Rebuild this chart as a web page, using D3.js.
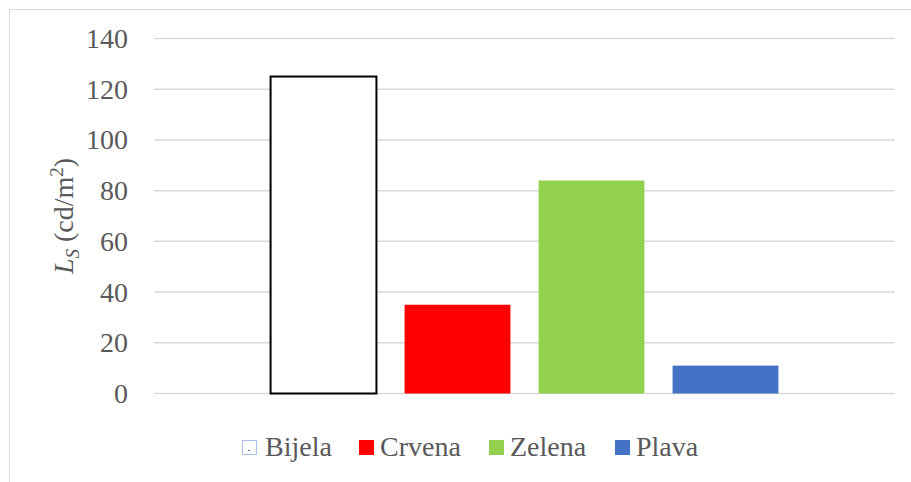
<!DOCTYPE html>
<html>
<head>
<meta charset="utf-8">
<script src="https://cdn.jsdelivr.net/npm/d3@7"></script>
</head>
<body style="margin:0">
<script>
  // data
  var series = ["Bijela", "Crvena", "Zelena", "Plava"];
  var values = [125, 35, 84, 11];
  var colors = ["#ffffff", "#ff0000", "#92d050", "#4472c4"];
  var yTicks = [0, 20, 40, 60, 80, 100, 120, 140];

  var width = 911, height = 482;
  var plotLeft = 154, plotRight = 895, plotTop = 38.5, plotBottom = 393.5;

  var svg = d3.select("body").append("svg")
    .attr("width", width).attr("height", height);

  // chart frame
  svg.append("rect")
    .attr("x", 9.5).attr("y", 9.5)
    .attr("width", width + 20).attr("height", height + 20)
    .attr("fill", "none").attr("stroke", "#d9d9d9").attr("stroke-width", 1);

  var y = d3.scaleLinear().domain([0, 140]).range([plotBottom, plotTop]);
  var x = d3.scaleBand().domain(series).range([plotLeft, plotRight])
    .paddingInner(0.21).paddingOuter(0.87);

  // gridlines
  svg.append("g")
    .selectAll("line")
    .data(yTicks)
    .join("line")
      .attr("x1", plotLeft).attr("x2", plotRight)
      .attr("y1", d => y(d)).attr("y2", d => y(d))
      .attr("stroke", "#d9d9d9").attr("stroke-width", 1.5);

  // y axis labels, drawn as plain texts at the scale's positions
  svg.append("g")
    .selectAll("text")
    .data(yTicks)
    .join("text")
      .attr("x", 128)
      .attr("y", d => y(d))
      .attr("dy", "0.34em")
      .attr("text-anchor", "end")
      .attr("font-size", 28)
      .attr("fill", "#595959")
      .style("font-family", "'Liberation Serif'")
      .text(d => d);

  // bars
  svg.append("g")
    .selectAll("rect")
    .data(series)
    .join("rect")
      .attr("x", d => x(d))
      .attr("width", x.bandwidth())
      .attr("y", (d, i) => y(values[i]))
      .attr("height", (d, i) => y(0) - y(values[i]))
      .attr("fill", (d, i) => colors[i])
      .attr("stroke", (d, i) => i == 0 ? "#000" : "none")
      .attr("stroke-width", 2);

  // y axis title
  var title = svg.append("text")
    .attr("transform", "translate(73,216) rotate(-90)")
    .attr("text-anchor", "middle")
    .attr("font-size", 28)
    .attr("fill", "#595959")
    .style("font-family", "'Liberation Serif'");
  title.append("tspan").attr("font-style", "italic").text("L");
  title.append("tspan").attr("font-style", "italic").attr("font-size", 19).attr("dy", 6).text("S");
  title.append("tspan").attr("dy", -6).text(" (cd/m");
  title.append("tspan").attr("font-size", 19).attr("dy", -10).text("2");
  title.append("tspan").attr("dy", 10).text(")");

  // legend
  var legendX = [242, 359, 489, 615];
  var lg = svg.append("g")
    .selectAll("g")
    .data(series)
    .join("g")
      .attr("transform", (d, i) => "translate(" + legendX[i] + ",440)");
  lg.append("rect")
    .attr("x", (d, i) => i == 0 ? 0.5 : 0)
    .attr("y", (d, i) => i == 0 ? 0.5 : 0)
    .attr("width", (d, i) => i == 0 ? 14 : 15)
    .attr("height", (d, i) => i == 0 ? 14 : 15)
    .attr("fill", (d, i) => colors[i])
    .attr("stroke", (d, i) => i == 0 ? "#aac0e8" : "none");
  lg.filter((d, i) => i == 0).append("line")
    .attr("x1", 6).attr("x2", 8).attr("y1", 10.5).attr("y2", 10.5)
    .attr("stroke", "#4472c4");
  lg.append("text")
    .attr("x", (d, i) => i == 0 ? 23 : 21)
    .attr("y", 16)
    .attr("font-size", 28)
    .attr("fill", "#595959")
    .style("font-family", "'Liberation Serif'")
    .text(d => d);
</script>
</body>
</html>
